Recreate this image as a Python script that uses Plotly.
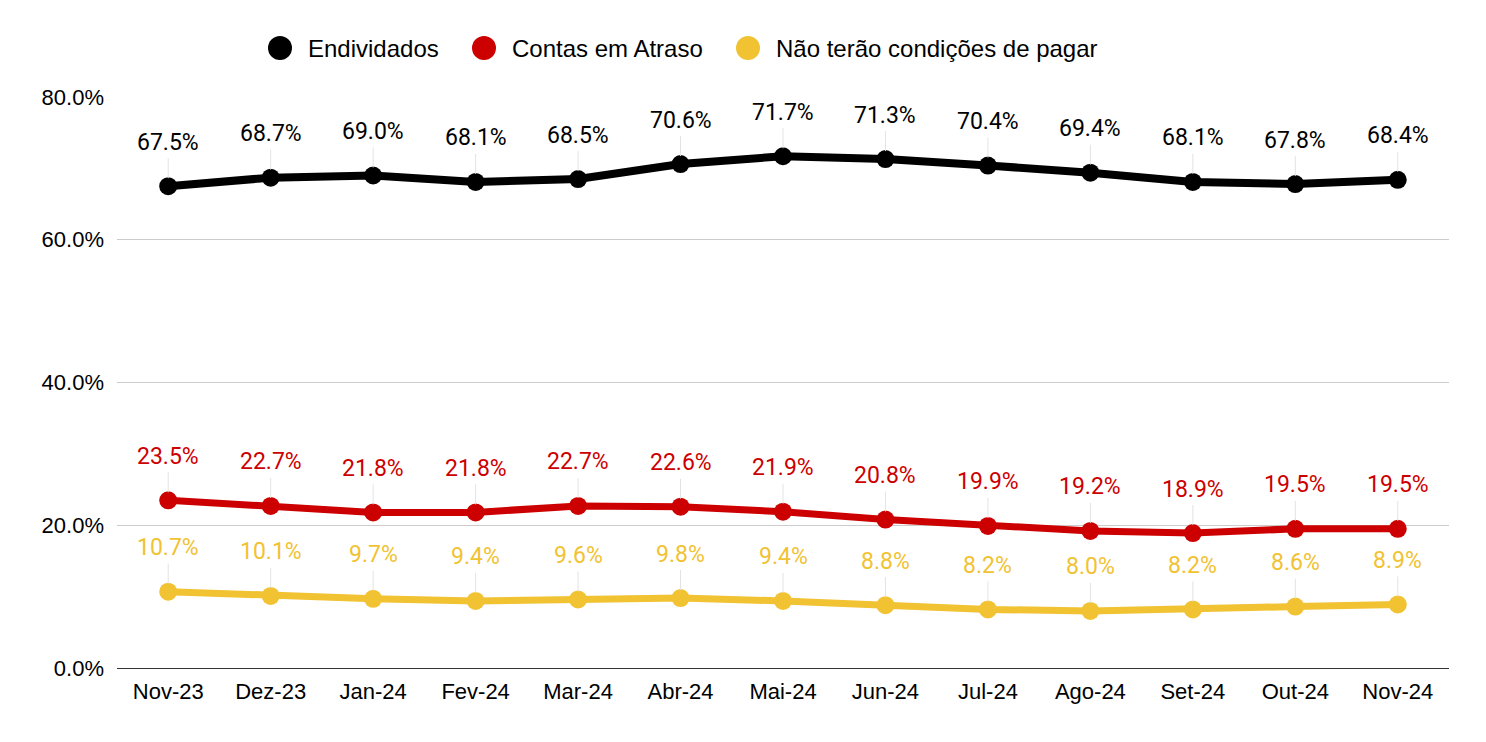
import plotly.graph_objects as go

months = ["Nov-23", "Dez-23", "Jan-24", "Fev-24", "Mar-24", "Abr-24", "Mai-24",
          "Jun-24", "Jul-24", "Ago-24", "Set-24", "Out-24", "Nov-24"]
endividados = [67.5, 68.7, 69.0, 68.1, 68.5, 70.6, 71.7, 71.3, 70.4, 69.4, 68.1, 67.8, 68.4]
contas_atraso = [23.5, 22.7, 21.8, 21.8, 22.7, 22.6, 21.9, 20.8, 19.9, 19.2, 18.9, 19.5, 19.5]
nao_pagar = [10.7, 10.1, 9.7, 9.4, 9.6, 9.8, 9.4, 8.8, 8.2, 8.0, 8.2, 8.6, 8.9]
y_ticks = [0, 20, 40, 60, 80]
y_tick_labels = ["0.0%", "20.0%", "40.0%", "60.0%", "80.0%"]

series_names = ["Endividados", "Contas em Atraso", "Não terão condições de pagar"]
series_values = [endividados, contas_atraso, nao_pagar]
series_colors = ["#000000", "#cc0000", "#f1c232"]
line_widths = [8, 7, 7]

W, H = 1486, 742
OFF = 8  # page body margin shift
# plot area in screen pixels
plot_l, plot_r, plot_t, plot_b = 117 - OFF, 1449 - OFF, 97 - OFF, 668 - OFF

fig = go.Figure()
annotations = []
for name, vals, col, lw in zip(series_names, series_values, series_colors, line_widths):
    fig.add_trace(go.Scatter(
        x=months, y=vals, name=name, mode="lines+markers",
        line=dict(color=col, width=lw),
        marker=dict(color=col, size=18),
        showlegend=False, hoverinfo="skip", cliponaxis=False,
    ))
    for m, v in zip(months, vals):
        annotations.append(dict(
            x=m, y=v, xref="x", yref="y", text=f"{v:.1f}%",
            showarrow=True, arrowhead=0, arrowwidth=1, arrowcolor="#e3e3e3",
            ax=0, ay=-44, standoff=8, borderpad=2,
            font=dict(family="Roboto", size=23, color=col),
        ))

# manual legend (large circles as in reference)
legend_x_px = [280 - OFF, 484 - OFF, 748 - OFF]
legend_y_px = 48 - OFF
shapes = []
py = (plot_b - legend_y_px) / (plot_b - plot_t)
for name, col, cx in zip(series_names, series_colors, legend_x_px):
    px = (cx - plot_l) / (plot_r - plot_l)
    shapes.append(dict(type="circle", xref="paper", yref="paper",
                       xsizemode="pixel", ysizemode="pixel",
                       xanchor=px, yanchor=py, x0=-12, x1=12, y0=-12, y1=12,
                       fillcolor=col, line=dict(width=0)))
    annotations.append(dict(x=(cx + 26 - plot_l) / (plot_r - plot_l), y=py,
                            xref="paper", yref="paper", xanchor="left", yanchor="middle",
                            text=name, showarrow=False,
                            font=dict(family="Liberation Sans, Arial", size=24, color="#000000")))

fig.update_layout(
    width=W, height=H,
    margin=dict(l=plot_l, r=W - plot_r, t=plot_t, b=H - plot_b, pad=0),
    paper_bgcolor="white", plot_bgcolor="white",
    annotations=annotations, shapes=shapes,
    font=dict(family="Liberation Sans, Arial", size=22, color="#000000"),
)
fig.update_xaxes(
    type="category", range=[-0.5, len(months) - 0.5],
    showgrid=False, showline=False, zeroline=False,
    ticks="", ticklabelstandoff=8, tickfont=dict(size=22, color="#000000"),
)
fig.update_yaxes(
    range=[0, 80], tickvals=y_ticks, ticktext=y_tick_labels,
    showgrid=True, gridcolor="#cccccc", gridwidth=1.3,
    zeroline=True, zerolinecolor="#333333", zerolinewidth=1.3,
    showline=False, ticks="", ticklabelstandoff=12,
    tickfont=dict(size=22, color="#000000"),
)

fig.write_html("out.html")
